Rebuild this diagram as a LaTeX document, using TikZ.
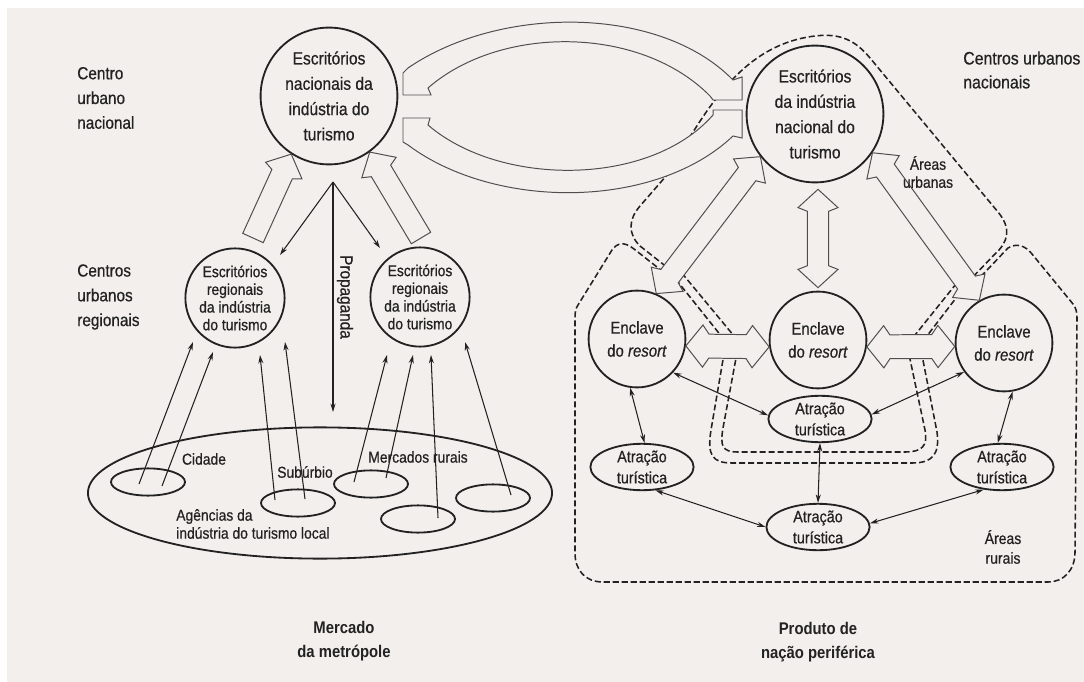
\documentclass[tikz,border=0pt]{standalone}
\usepackage{fontspec}
\setmainfont{Liberation Sans}[FakeStretch=0.88, UprightFeatures={FakeBold=0.6}, ItalicFeatures={FakeBold=0.6}]
\usetikzlibrary{shapes.geometric,arrows.meta,calc}

\definecolor{paper}{RGB}{243,239,236}
\definecolor{ink}{RGB}{34,34,34}

\tikzstyle{bigoffice}=[circle, draw=ink, line width=1.3pt, minimum size=3.42cm, inner sep=0pt, align=center, text=ink, font=\fontsize{12.6}{18}\selectfont]
\tikzstyle{regoffice}=[circle, draw=ink, line width=1.3pt, minimum size=2.48cm, inner sep=0pt, align=center, text=ink, font=\fontsize{11.2}{12.6}\selectfont]
\tikzstyle{enclave}=[circle, draw=ink, line width=1.3pt, minimum size=2.42cm, inner sep=0pt, align=center, text=ink, font=\fontsize{12.1}{16.4}\selectfont]
\tikzstyle{attraction}=[ellipse, draw=ink, line width=1.3pt, minimum width=2.58cm, minimum height=1.16cm, inner sep=0pt]
\tikzstyle{attrtext}=[align=center, text=ink, inner sep=0pt, font=\fontsize{11.6}{15}\selectfont]
\tikzstyle{metro}=[ellipse, draw=ink, line width=1.3pt, minimum width=11.6cm, minimum height=3.28cm, inner sep=0pt]
\tikzstyle{market}=[ellipse, draw=ink, line width=1.3pt, minimum width=1.85cm, minimum height=0.68cm, inner sep=0pt]
\tikzstyle{lbl}=[align=center, text=ink, inner sep=0pt, font=\fontsize{11.2}{12.8}\selectfont]
\tikzstyle{side}=[align=left, anchor=west, text=ink, inner sep=0pt, font=\fontsize{12.4}{17.6}\selectfont]
\tikzstyle{caption}=[align=center, text=ink, inner sep=0pt, font=\bfseries\fontsize{12}{17}\selectfont]
\tikzstyle{flow}=[draw=ink, line width=0.75pt, -{Stealth[length=6pt,width=3.6pt]}]
\tikzstyle{link}=[draw=ink, line width=0.75pt, {Stealth[length=6pt,width=3.6pt]}-{Stealth[length=6pt,width=3.6pt]}]
\tikzstyle{zone}=[draw=ink, line width=1.1pt, dash pattern=on 4.3pt off 2.1pt]
\tikzstyle{broad}=[draw=ink!80, line width=0.7pt, fill=paper, line join=miter]

\newcommand{\dblock}[6]{
  \path (#1) coordinate (bt1) (#2) coordinate (bt2);
  \path ($(bt1)!#5!(bt2)$) coordinate (bb1) ($(bt1)!#6!(bt2)$) coordinate (bj1)
    ($(bt2)!#5!(bt1)$) coordinate (bb2) ($(bt2)!#6!(bt1)$) coordinate (bj2);
  \draw[broad] (bt1) -- ($(bb1)!#4!90:(bt2)$) -- ($(bj1)!#3!90:(bt2)$)
    -- ($(bj2)!#3!-90:(bt1)$) -- ($(bb2)!#4!-90:(bt1)$) -- (bt2)
    -- ($(bb2)!#4!90:(bt1)$) -- ($(bj2)!#3!90:(bt1)$)
    -- ($(bj1)!#3!-90:(bt2)$) -- ($(bb1)!#4!-90:(bt2)$) -- cycle;
}
\newcommand{\sblock}[6]{
  \path (#1) coordinate (bt1) (#2) coordinate (bt2);
  \path ($(bt2)!#5!(bt1)$) coordinate (bb2) ($(bt2)!#6!(bt1)$) coordinate (bj2);
  \draw[broad] ($(bt1)!#3!-90:(bt2)$) -- ($(bj2)!#3!90:(bt1)$) -- ($(bb2)!#4!90:(bt1)$) -- (bt2)
    -- ($(bb2)!#4!-90:(bt1)$) -- ($(bj2)!#3!-90:(bt1)$) -- ($(bt1)!#3!90:(bt2)$) -- cycle;
}

\begin{document}
\begin{tikzpicture}[x=0.025cm, y=-0.025cm]
\useasboundingbox (0,0) rectangle (1084,682);
\fill[white] (0,0) rectangle (1084,682);
\fill[paper] (7,8) rectangle (1084,682);

\node[side] (lnat) at (77,98) {Centro\\urbano\\nacional};
\node[side] (lreg) at (77,297) {Centros\\urbanos\\regionais};
\node[side, font=\fontsize{12.8}{17}\selectfont] (lcen) at (963,70) {Centros urbanos\\nacionais};

\node[bigoffice] (n1) at (329,96) {Escritórios\\nacionais da\\indústria do\\turismo};
\node[bigoffice] (n2) at (815,114) {Escritórios\\da indústria\\nacional do\\turismo};
\node[regoffice] (r1) at (235,298) {Escritórios\\regionais\\da indústria\\do turismo};
\node[regoffice] (r2) at (420,297) {Escritórios\\regionais\\da indústria\\do turismo};

\node[metro] (m) at (320,493) {};
\node[market] (e1) at (148,482) {};
\node[market] (e2) at (298,503) {};
\node[market] (e3) at (371,484) {};
\node[market] (e4) at (418,519) {};
\node[market] (e5) at (493,498) {};
\node[lbl] (lcid) at (204,459) {Cidade};
\node[lbl] (lsub) at (305,472) {Subúrbio};
\node[lbl] (lrur) at (418,457) {Mercados rurais};
\node[lbl, anchor=west, align=left] (lage) at (176,524) {Agências da\\indústria do turismo local};
\node[caption] (lmet) at (344,641) {Mercado\\da metrópole};

\node[enclave] (c1) at (637,339) {Enclave\\do \textit{resort}};
\node[enclave] (c2) at (818,340) {Enclave\\do \textit{resort}};
\node[enclave] (c3) at (1004,343) {Enclave\\do \textit{resort}};
\node[attraction] (a0) at (820,419) {};
\node[attraction] (a1) at (642,467) {};
\node[attraction] (a2) at (818,527) {};
\node[attraction] (a3) at (1002,467) {};
\node[attrtext] (a0t) at (a0) {Atração\\turística};
\node[attrtext] (a1t) at (a1) {Atração\\turística};
\node[attrtext] (a2t) at (a2) {Atração\\turística};
\node[attrtext] (a3t) at (a3) {Atração\\turística};
\node[lbl, font=\fontsize{11.3}{14}\selectfont] (lrurais) at (1003,547) {Áreas\\rurais};
\node[caption] (lper) at (818,642) {Produto de\\nação periférica};

\draw[zone] (673,272) -- (640,246) .. controls (628,234) and (628,220) .. (640,206) -- (667,175)
  .. controls (705,112) and (740,45) .. (815,36) .. controls (840,33) and (855,40) .. (870,58)
  -- (998,212) .. controls (1012,229) and (1008,242) .. (995,254) -- (966,284);
\draw[zone] (671,278) -- (634,249) .. controls (624,241) and (617,243) .. (612,250) -- (578,305)
  .. controls (576,308) and (575,311) .. (575,318) -- (575,553) .. controls (575,570) and (585,582) .. (603,582)
  -- (1048,582) .. controls (1064,582) and (1075,570) .. (1075,552) -- (1077,318)
  .. controls (1077,312) and (1076,308) .. (1073,304) -- (1032,254) .. controls (1025,245) and (1016,243) .. (1008,248) -- (970,288);
\draw[zone] (670,272) -- (726,342) -- (711,430) .. controls (707,455) and (712,463) .. (732,463)
  -- (912,463) .. controls (932,463) and (940,455) .. (937,432) -- (920,345) -- (966,285);
\draw[zone] (676,266) -- (739,342) -- (723,428) .. controls (720,446) and (722,452) .. (738,452)
  -- (905,452) .. controls (922,452) and (928,446) .. (925,430) -- (907,345) -- (960,279);

\draw[broad] (408,68) .. controls (500,5) and (660,5) .. (733,80) -- (742,77) -- (742,100) -- (713,100)
  -- (710,96) .. controls (640,25) and (500,25) .. (428,88) -- (431,95) -- (403,95) -- (403,73) -- cycle;
\draw[broad] (403,118) -- (430,118) -- (428,125) .. controls (500,187) and (650,187) .. (713,115)
  -- (713,110) -- (742,110) -- (742,138) -- (733,136) .. controls (655,210) and (495,210) .. (408,145)
  -- (403,142) -- cycle;

\coordinate (r1tail) at ($(r1)+(18,-60)$);
\coordinate (r2tail) at ($(r2)+(1,-59)$);
\sblock{r1tail}{n1.237}{8pt}{14.2pt}{12.8pt}{15.6pt}
\sblock{r2tail}{n1.306}{8pt}{14.2pt}{12.8pt}{15.6pt}
\dblock{c1.67}{n2.218}{7.8pt}{14.2pt}{12.8pt}{15.6pt}
\dblock{c3.120}{n2.326}{7.8pt}{14.2pt}{12.8pt}{15.6pt}
\dblock{$(n2.south)+(3,6)$}{$(c2.north)+(0,-3)$}{7.6pt}{14.2pt}{13pt}{15.6pt}
\dblock{c1.-8}{c2.188}{8.5pt}{15pt}{12pt}{16.4pt}
\dblock{c2.-8}{c3.184}{8.5pt}{15pt}{12pt}{16.4pt}

\node[lbl] (lurb) at (928,172) {Áreas\\urbanas};

\coordinate (prop) at (333,182);
\coordinate (propend) at (333,412);
\draw[flow] (prop) -- (propend);
\draw[flow] (prop) -- ($(r1)+(45,-43)$);
\draw[flow] (prop) -- ($(r2)+(-40,-49)$);
\node[lbl, rotate=-90, font=\fontsize{12.4}{14}\selectfont] (lprop) at (345,297) {Propaganda};

\draw[flow] ($(e1)+(-9,2)$) -- ($(r1)+(-42,44)$);
\draw[flow] ($(e1)+(14,4)$) -- ($(r1)+(-22,54)$);
\draw[flow] ($(e2)+(-23,-3)$) -- ($(r1)+(25,57)$);
\draw[flow] ($(e2)+(7,-4)$) -- ($(r1)+(50,44)$);
\draw[flow] ($(e3)+(-17,-2)$) -- ($(r2)+(-33,58)$);
\draw[flow] ($(e3)+(15,-6)$) -- ($(r2)+(-7,58)$);
\draw[flow] ($(e4)+(20,-1)$) -- ($(r2)+(11,58)$);
\draw[flow] ($(e5)+(18,-3)$) -- ($(r2)+(45,45)$);

\draw[link] (c1.262) -- (a1.84);
\draw[link] (c1.317) -- (a0.176);
\draw[link] (c3.216) -- (a0.5);
\draw[link] (c3.280) -- (a3.100);
\draw[link] (a0.south) -- (a2.north);
\draw[link] (a1.300) -- (a2.180);
\draw[link] (a3.231) -- (a2.4);
\end{tikzpicture}
\end{document}
